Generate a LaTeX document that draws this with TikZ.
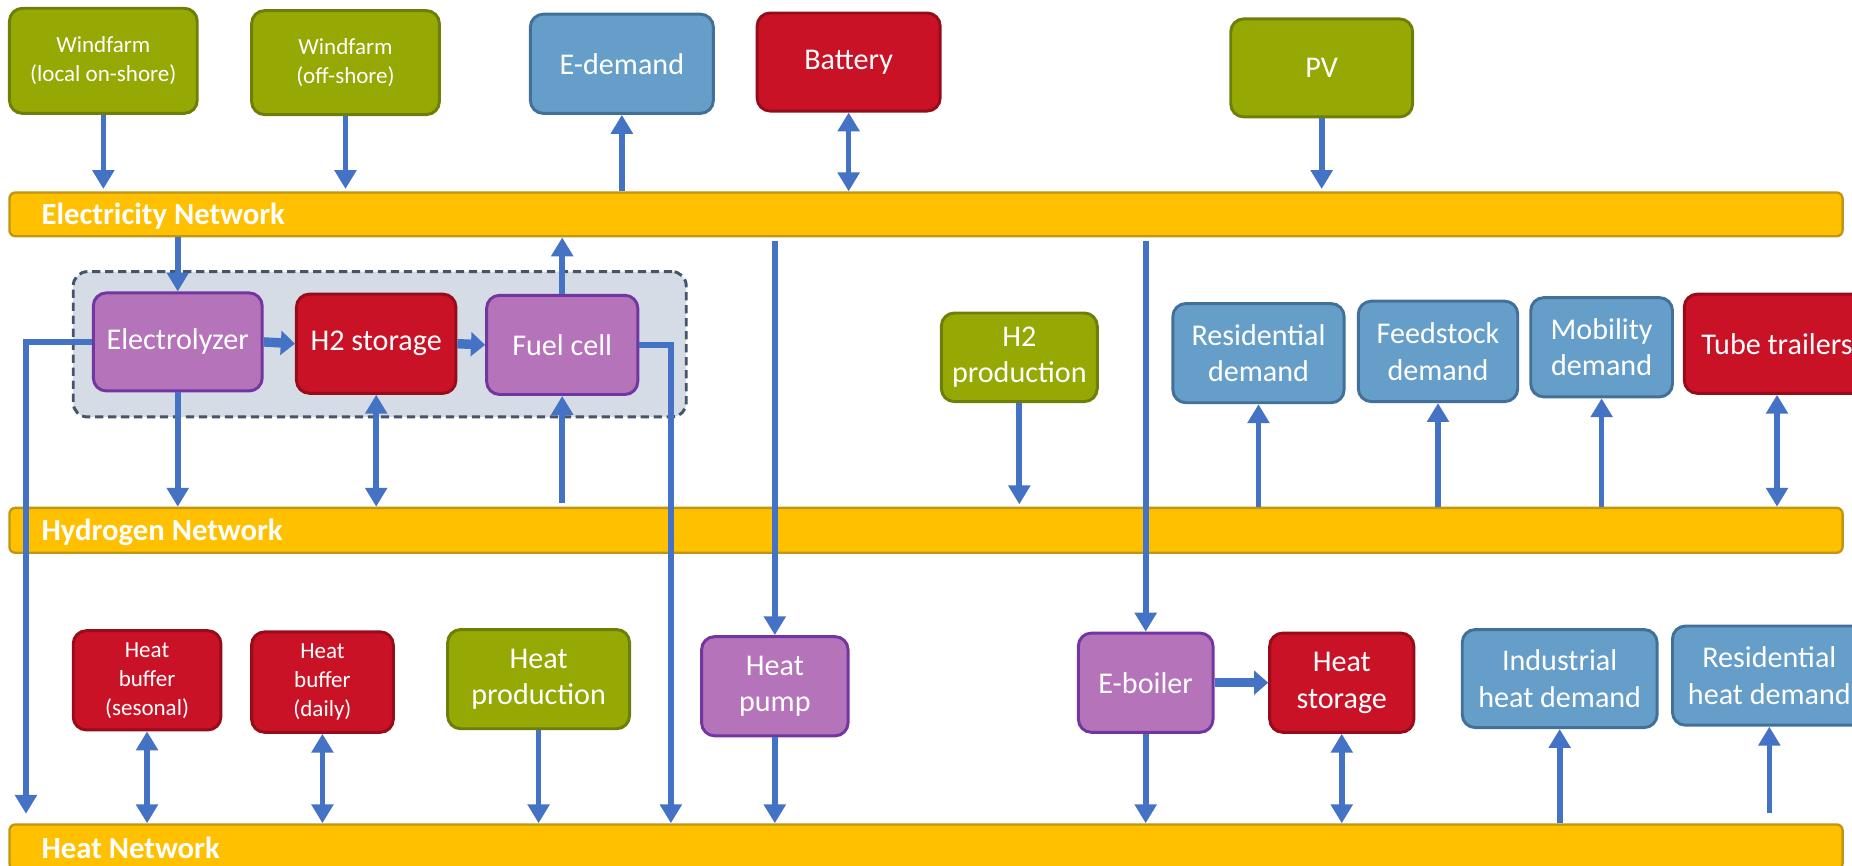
\documentclass[tikz,border=0pt]{standalone}
\usepackage{fontspec}
\setmainfont{Carlito}
\usetikzlibrary{arrows.meta,calc}
\definecolor{gfill}{RGB}{149,168,4}
\definecolor{gline}{RGB}{110,126,8}
\definecolor{bfill}{RGB}{101,158,200}
\definecolor{bline}{RGB}{66,112,152}
\definecolor{rfill}{RGB}{202,18,38}
\definecolor{rline}{RGB}{150,12,26}
\definecolor{pfill}{RGB}{181,115,186}
\definecolor{pline}{RGB}{114,54,160}
\definecolor{yfill}{RGB}{255,192,0}
\definecolor{yline}{RGB}{192,150,20}
\definecolor{grpfill}{RGB}{214,220,229}
\definecolor{grpline}{RGB}{68,84,106}
\definecolor{arrc}{RGB}{68,114,196}
\tikzset{
  base/.style={rounded corners=11pt, line width=2.5pt, text=white, align=center, inner sep=0pt,
    font=\fontsize{25.5}{31}\selectfont},
  small/.style={font=\fontsize{19.5}{24.5}\selectfont},
  gbox/.style={base, fill=gfill, draw=gline},
  bbox/.style={base, fill=bfill, draw=bline},
  rbox/.style={base, fill=rfill, draw=rline},
  pbox/.style={base, fill=pfill, draw=pline},
  bar/.style={rounded corners=5pt, line width=2pt, fill=yfill, draw=yline, inner sep=0pt},
  barlabel/.style={anchor=west, text=white, inner sep=0pt, font=\fontsize{26}{31}\selectfont\bfseries},
  grp/.style={rounded corners=12pt, line width=2.5pt, fill=grpfill, draw=grpline, dash pattern=on 7pt off 4pt, inner sep=0pt},
  arr/.style={draw=arrc, line width=4.8pt, -{Triangle[width=18pt,length=16pt]}},
  darr/.style={draw=arrc, line width=4.8pt, {Triangle[width=18pt,length=16pt]}-{Triangle[width=18pt,length=16pt]}},
  tarr/.style={draw=arrc, line width=8pt, -{Triangle[width=20pt,length=12pt]}},
}
\begin{document}
\begin{tikzpicture}[x=1pt,y=-1pt]
\useasboundingbox (0,0) rectangle (1568,733);
% bars
\node[bar, minimum width=1552pt, minimum height=37pt] (elec) at (784,181.5) {};
\node[barlabel] (elecl) at (35,183) {Electricity Network};
\node[bar, minimum width=1552pt, minimum height=38pt] (hyd) at (784,449) {};
\node[barlabel] (hydl) at (35,451) {Hydrogen Network};
\node[bar, minimum width=1552pt, minimum height=38pt] (heat) at (784,717) {};
\node[barlabel] (heatl) at (35,718) {Heat Network};
% group
\node[grp, minimum width=519pt, minimum height=123pt] (group) at (321.5,291.5) {};
% top row
\node[gbox, small, minimum width=159pt, minimum height=89pt] (wf1) at (87.5,51.5) {Windfarm\\(local on-shore)};
\node[gbox, small, minimum width=159pt, minimum height=88pt] (wf2) at (292.5,53) {Windfarm\\(off-shore)};
\node[bbox, minimum width=155pt, minimum height=84pt] (edem) at (526.5,54) {E-demand};
\node[rbox, minimum width=155pt, minimum height=83pt] (batt) at (718.5,52.5) {Battery};
\node[gbox, minimum width=154pt, minimum height=83pt] (pv) at (1119,57.5) {PV};
% middle row
\node[pbox, minimum width=143pt, minimum height=83pt] (elz) at (150.5,289.5) {Electrolyzer};
\node[rbox, minimum width=135pt, minimum height=84pt] (h2s) at (318.5,291) {H2 storage};
\node[pbox, minimum width=128pt, minimum height=84pt] (fc) at (476,292) {Fuel cell};
\node[gbox, minimum width=132pt, minimum height=75pt] (h2p) at (863,302.5) {H2\\production};
\node[bbox, minimum width=145pt, minimum height=84pt] (resd) at (1065.5,299) {Residential\\demand};
\node[bbox, minimum width=135pt, minimum height=85pt] (feed) at (1217.5,297.5) {Feedstock\\demand};
\node[bbox, minimum width=120pt, minimum height=84pt] (mob) at (1356,294) {Mobility\\demand};
\node[rbox, minimum width=157pt, minimum height=84pt] (tube) at (1504.5,291) {Tube trailers};
% bottom row
\node[rbox, small, minimum width=125pt, minimum height=84pt] (hbs) at (124.5,576) {Heat\\buffer\\(sesonal)};
\node[rbox, small, minimum width=120pt, minimum height=85pt] (hbd) at (273,577.5) {Heat\\buffer\\(daily)};
\node[gbox, minimum width=154pt, minimum height=84pt] (hprod) at (456,575) {Heat\\production};
\node[pbox, minimum width=124pt, minimum height=84pt] (hpump) at (656,581) {Heat\\pump};
\node[pbox, minimum width=114pt, minimum height=84pt] (eboil) at (970,578) {E-boiler};
\node[rbox, minimum width=122pt, minimum height=84pt] (hstor) at (1136,578) {Heat\\storage};
\node[bbox, minimum width=165pt, minimum height=83pt] (indh) at (1320.5,574.5) {Industrial\\heat demand};
\node[bbox, minimum width=164pt, minimum height=84pt] (resh) at (1498,572) {Residential\\heat demand};
\coordinate (hx1) at (22,0);
\coordinate (hx2) at (568,0);
% electricity connectors
\draw[arr, shorten >=2pt] (wf1.south) -- (wf1.south |- elec.north);
\draw[arr, shorten >=2pt] (wf2.south) -- (wf2.south |- elec.north);
\draw[arr] (edem.south |- elec.north) -- (edem.south);
\draw[darr] (batt.south) -- (batt.south |- elec.north);
\draw[arr, shorten >=2pt] (pv.south) -- (pv.south |- elec.north);
\draw[arr] (elz.north |- elec.south) -- (elz.north);
\draw[arr] (fc.north) -- (fc.north |- elec.south);
\draw[arr, shorten <=3pt] (hpump.north |- elec.south) -- (hpump.north);
\draw[arr, shorten <=3pt] (eboil.north |- elec.south) -- (eboil.north);
% hydrogen
\draw[tarr] (elz.east) -- (h2s.west);
\draw[tarr] (h2s.east) -- (fc.west);
\draw[arr] (elz.south) -- (elz.south |- hyd.north);
\draw[darr] (h2s.south) -- (h2s.south |- hyd.north);
\draw[arr, shorten <=3pt] (fc.south |- hyd.north) -- (fc.south);
\draw[arr, shorten >=2pt] (h2p.south) -- (h2p.south |- hyd.north);
\draw[arr] (resd.south |- hyd.north) -- (resd.south);
\draw[arr] (feed.south |- hyd.north) -- (feed.south);
\draw[arr] (mob.south |- hyd.north) -- (mob.south);
\draw[darr] (tube.south) -- (tube.south |- hyd.north);
% to heat
\draw[arr, shorten >=8pt] (elz.west) -| (hx1 |- heat.north);
\draw[arr] (fc.east) -| (hx2 |- heat.north);
\draw[darr] (hbs.south) -- (hbs.south |- heat.north);
\draw[darr] (hbd.south) -- (hbd.south |- heat.north);
\draw[arr] (hprod.south) -- (hprod.south |- heat.north);
\draw[arr] (hpump.south) -- (hpump.south |- heat.north);
\draw[arr] (eboil.south) -- (eboil.south |- heat.north);
\draw[tarr] (eboil.east) -- (hstor.west);
\draw[darr] (hstor.south) -- (hstor.south |- heat.north);
\draw[arr] (indh.south |- heat.north) -- (indh.south);
\draw[arr, shorten <=9pt] (resh.south |- heat.north) -- (resh.south);
\end{tikzpicture}
\end{document}
